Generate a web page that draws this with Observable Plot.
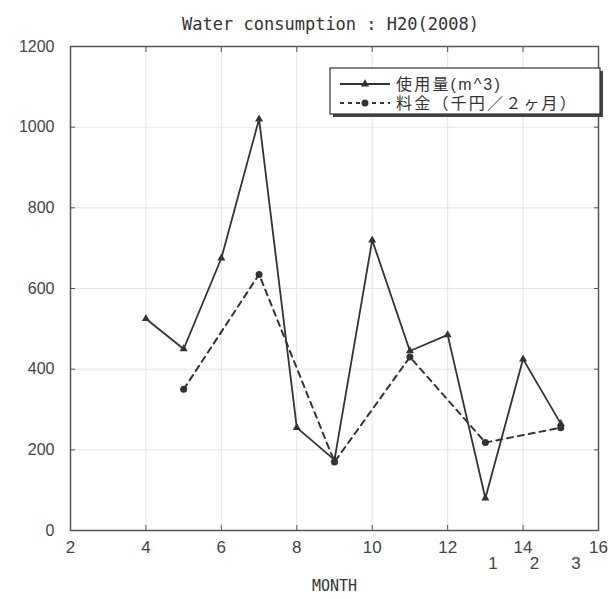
<!DOCTYPE html>
<html>
<head>
<meta charset="utf-8">
<script src="https://cdn.jsdelivr.net/npm/d3@7"></script>
<script src="https://cdn.jsdelivr.net/npm/@observablehq/plot@0.6"></script>
<style>
  body { margin: 0; background: #fff; }
</style>
</head>
<body>
<div id="chart"></div>
<script>
const titleText = "Water consumption : H20(2008)";
const xLabel = "MONTH";
const usageMonths = [4, 5, 6, 7, 8, 9, 10, 11, 12, 13, 14, 15];
const usageValues = [525, 450, 675, 1020, 255, 175, 720, 445, 485, 80, 425, 265];
const feeMonths = [5, 7, 9, 11, 13, 15];
const feeValues = [350, 635, 170, 430, 218, 255];
const xTicks = [2, 4, 6, 8, 10, 12, 14, 16];
const yTicks = [0, 200, 400, 600, 800, 1000, 1200];
const subTickPos = [13.2, 14.3, 15.4];
const subTickText = ["1", "2", "3"];
const legendLabels = ["使用量(m^3)", "料金（千円／２ヶ月）"];

const usage = usageMonths.map((m, i) => ({month: m, value: usageValues[i]}));
const fee = feeMonths.map((m, i) => ({month: m, value: feeValues[i]}));
const subTicks = subTickPos.map((p, i) => ({pos: p, text: subTickText[i]}));

const ink = "#333";
const axisInk = "#555";
const chart = Plot.plot({
  width: 614,
  height: 599,
  marginTop: 46,
  marginBottom: 69,
  marginLeft: 70,
  marginRight: 16,
  style: {fontFamily: "'Liberation Sans', Arial, sans-serif", fontSize: "16px", color: ink, background: "#fff"},
  x: {domain: [2, 16]},
  y: {domain: [0, 1200]},
  marks: [
    Plot.gridX(xTicks, {stroke: "#e4e4e4", strokeOpacity: 1}),
    Plot.gridY(yTicks, {stroke: "#e4e4e4", strokeOpacity: 1}),
    Plot.frame({stroke: axisInk, strokeWidth: 1.5}),
    // labels
    Plot.axisX(xTicks, {anchor: "bottom", tickSize: 0, tickPadding: 10, fontSize: 17, fill: "#444", label: null, tickFormat: d => String(d)}),
    Plot.axisY(yTicks, {anchor: "left", tickSize: 0, tickPadding: 16, fontSize: 16, fill: "#444", label: null, tickFormat: d => String(d)}),
    // inward ticks
    Plot.axisX(xTicks, {anchor: "bottom", tickSize: 5, dy: -5, text: null, stroke: axisInk, label: null}),
    Plot.axisX(xTicks, {anchor: "top", tickSize: 5, dy: 5, text: null, stroke: axisInk, label: null}),
    Plot.axisY(yTicks, {anchor: "left", tickSize: 5, dx: 5, text: null, stroke: axisInk, label: null}),
    Plot.axisY(yTicks, {anchor: "right", tickSize: 5, dx: -5, text: null, stroke: axisInk, label: null}),
    Plot.line(usage, {x: "month", y: "value", stroke: ink, strokeWidth: 1.8}),
    Plot.dot(usage, {x: "month", y: "value", symbol: "triangle", r: 3, fill: ink}),
    Plot.line(fee, {x: "month", y: "value", stroke: ink, strokeWidth: 2, strokeDasharray: "6,5"}),
    Plot.dot(fee, {x: "month", y: "value", symbol: "circle", r: 3.5, fill: ink}),
    Plot.text(subTicks, {x: "pos", text: "text", frameAnchor: "bottom", dy: 38, fontSize: 17, fill: "#444"}),
    Plot.text([xLabel], {frameAnchor: "bottom", dy: 60, fontSize: 15, fontFamily: "'DejaVu Sans Mono', monospace", fill: ink}),
    Plot.text([titleText], {frameAnchor: "top", dy: -29, dx: -4, fontSize: 17, fontFamily: "'DejaVu Sans Mono', monospace", fill: ink})
  ]
});
document.getElementById("chart").appendChild(chart);

// Legend box with drop shadow
const svg = d3.select(chart);
const lg = svg.append("g").attr("class", "legend").attr("text-anchor", "start");
const bx = 330, by = 68, bw = 270, bh = 46;
lg.append("rect").attr("x", bx + 3).attr("y", by + 3).attr("width", bw).attr("height", bh).attr("fill", "#444");
lg.append("rect").attr("x", bx).attr("y", by).attr("width", bw).attr("height", bh).attr("fill", "#fff").attr("stroke", ink).attr("stroke-width", 1.2);
const rows = [84, 103];
// row 1: solid + triangle
lg.append("line").attr("x1", 340).attr("x2", 390).attr("y1", rows[0]).attr("y2", rows[0]).attr("stroke", ink).attr("stroke-width", 1.8);
lg.append("path").attr("d", d3.symbol(d3.symbolTriangle, 30)()).attr("transform", `translate(365,${rows[0]})`).attr("fill", ink);
// row 2: dashed + circle
lg.append("line").attr("x1", 340).attr("x2", 390).attr("y1", rows[1]).attr("y2", rows[1]).attr("stroke", ink).attr("stroke-width", 2).attr("stroke-dasharray", "4,4");
lg.append("circle").attr("cx", 365).attr("cy", rows[1]).attr("r", 3.5).attr("fill", ink);
legendLabels.forEach((t, i) => {
  lg.append("text").attr("x", 396).attr("y", rows[i]).attr("dy", "0.35em").attr("text-anchor", "start")
    .attr("font-family", "'Liberation Sans', 'Noto Sans CJK JP', sans-serif").attr("font-size", 16)
    .attr("letter-spacing", 2.2).attr("fill", ink).text(t);
});
</script>
</body>
</html>
